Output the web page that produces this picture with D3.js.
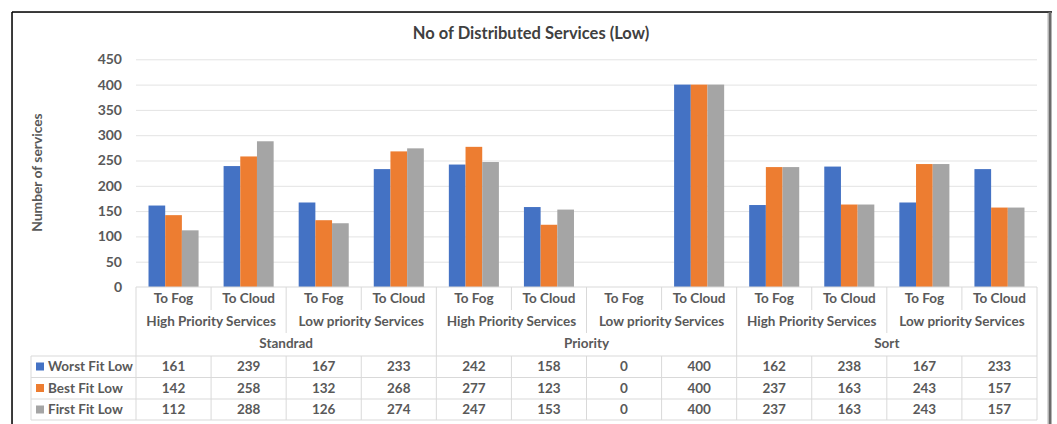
<!DOCTYPE html>
<html>
<head>
<meta charset="utf-8">
<script src="https://cdn.jsdelivr.net/npm/d3@7"></script>
<style>
  html, body { margin: 0; padding: 0; background: #fff; }
  svg { display: block; }
  text { font-family: Lato, "Open Sans", sans-serif; font-weight: bold; fill: #595959; }
</style>
</head>
<body>
<svg id="chart" width="1057" height="424"></svg>
<script>
const chartTitle = "No of Distributed Services (Low)";
const yAxisTitle = "Number of services";
const mainGroups = ["Standrad", "Priority", "Sort"];
const subGroups = ["High Priority Services", "Low priority Services"];
const destinations = ["To Fog", "To Cloud"];
const seriesNames = ["Worst Fit Low", "Best Fit Low", "First Fit Low"];
const seriesColors = ["#4472C4", "#ED7D31", "#A5A5A5"];
const worstFitLow = [161, 239, 167, 233, 242, 158, 0, 400, 162, 238, 167, 233];
const bestFitLow  = [142, 258, 132, 268, 277, 123, 0, 400, 237, 163, 243, 157];
const firstFitLow = [112, 288, 126, 274, 247, 153, 0, 400, 237, 163, 243, 157];
const yTicks = [0, 50, 100, 150, 200, 250, 300, 350, 400, 450];

const series = [worstFitLow, bestFitLow, firstFitLow];
const categories = [];
mainGroups.forEach((g, gi) => subGroups.forEach((s, si) => destinations.forEach((d, di) => {
  categories.push({ index: categories.length, main: g, sub: s, dest: d });
})));

const svg = d3.select("#chart");
const W = 1057, H = 424;
const plotLeft = 136, plotRight = 1037, plotTop = 59.3, plotBottom = 287;

// outer frame
svg.append("rect").attr("x", 12.5).attr("y", 12.5).attr("width", 1035).attr("height", 420)
  .attr("fill", "#fff").attr("stroke", "#d9d9d9").attr("stroke-width", 1);
svg.append("line").attr("x1", 12).attr("x2", 1052).attr("y1", 12).attr("y2", 12).attr("stroke", "#000").attr("stroke-width", 1.5);
svg.append("line").attr("x1", 12).attr("x2", 12).attr("y1", 12).attr("y2", H).attr("stroke", "#000").attr("stroke-width", 1.5);
svg.append("line").attr("x1", 1050).attr("x2", 1050).attr("y1", 12).attr("y2", H).attr("stroke", "#6b6b6b").attr("stroke-width", 3);

const x = d3.scaleBand().domain(categories.map(c => c.index)).range([plotLeft, plotRight])
  .paddingInner(1 / 3).paddingOuter(1 / 6);
const xs = d3.scaleBand().domain(d3.range(series.length)).range([0, x.bandwidth()]);
const y = d3.scaleLinear().domain([0, 450]).range([plotBottom, plotTop]);

// gridlines + y labels via axis
const yAxis = d3.axisLeft(y).tickValues(yTicks).tickSize(-(plotRight - plotLeft)).tickPadding(14);
const gy = svg.append("g").attr("transform", `translate(${plotLeft},0)`).call(yAxis);
gy.select(".domain").remove();
gy.selectAll(".tick line").attr("stroke", "#e3e3e3").attr("stroke-width", 1)
  .filter(d => d === 0).remove();
gy.selectAll(".tick text").attr("font-size", 14).attr("fill", "#595959")
  .style("font-family", "Lato, sans-serif").style("font-weight", "bold");

// bars
series.forEach((vals, si) => {
  svg.append("g").selectAll("rect").data(categories).join("rect")
    .attr("x", c => x(c.index) + xs(si))
    .attr("width", xs.bandwidth())
    .attr("y", c => y(vals[c.index]))
    .attr("height", c => y(0) - y(vals[c.index]))
    .attr("fill", seriesColors[si]);
});

// title
svg.append("text").attr("x", 531).attr("y", 39).attr("text-anchor", "middle")
  .attr("font-size", 16.5).text(chartTitle).style("fill", "#404040");
// y title
svg.append("text").attr("transform", "translate(41.5,172.5) rotate(-90)").attr("text-anchor", "middle")
  .attr("font-size", 13.8).text(yAxisTitle);

// table
const gridColor = "#d9d9d9";
const tbl = svg.append("g");
const step = x.step();
const colLeft = i => plotLeft + i * step;
const row1 = 298, row2 = 321, row3 = 343.5;
const rowLines = [356, 377.5, 399, 420];
const dataRows = [366.5, 388, 409.5];
const legendLeft = 31;

// horizontal lines
tbl.append("line").attr("x1", plotLeft).attr("x2", plotRight).attr("y1", plotBottom).attr("y2", plotBottom).attr("stroke", gridColor);
rowLines.forEach(ly => tbl.append("line").attr("x1", legendLeft).attr("x2", plotRight).attr("y1", ly).attr("y2", ly).attr("stroke", gridColor));
// vertical lines for header levels
for (let i = 0; i <= categories.length; i++) {
  let y2;
  if (i % 4 === 0) y2 = 420;
  else if (i % 2 === 0) y2 = 333;
  else y2 = 310;
  tbl.append("line").attr("x1", colLeft(i)).attr("x2", colLeft(i)).attr("y1", plotBottom).attr("y2", y2).attr("stroke", gridColor);
  if (i % 4 !== 0) tbl.append("line").attr("x1", colLeft(i)).attr("x2", colLeft(i)).attr("y1", 356).attr("y2", 420).attr("stroke", gridColor);
}
tbl.append("line").attr("x1", legendLeft).attr("x2", legendLeft).attr("y1", 356).attr("y2", 420).attr("stroke", gridColor);

// header text
categories.forEach(c => {
  tbl.append("text").attr("x", x(c.index) + x.bandwidth() / 2).attr("y", row1).attr("dy", "0.35em")
    .attr("text-anchor", "middle").attr("font-size", 13.5).text(c.dest);
});
mainGroups.forEach((g, gi) => subGroups.forEach((s, si) => {
  const i0 = gi * 4 + si * 2;
  tbl.append("text").attr("x", (colLeft(i0) + colLeft(i0 + 2)) / 2).attr("y", row2).attr("dy", "0.35em")
    .attr("text-anchor", "middle").attr("font-size", 13.5).text(s);
}));
mainGroups.forEach((g, gi) => {
  tbl.append("text").attr("x", (colLeft(gi * 4) + colLeft(gi * 4 + 4)) / 2).attr("y", row3).attr("dy", "0.35em")
    .attr("text-anchor", "middle").attr("font-size", 13.5).text(g);
});
// data rows
series.forEach((vals, si) => {
  tbl.append("rect").attr("x", 36).attr("y", dataRows[si] - 4).attr("width", 8).attr("height", 8).attr("fill", seriesColors[si]);
  tbl.append("text").attr("x", 48).attr("y", dataRows[si]).attr("dy", "0.35em").attr("font-size", 13.5).text(seriesNames[si]);
  categories.forEach(c => {
    tbl.append("text").attr("x", x(c.index) + x.bandwidth() / 2).attr("y", dataRows[si]).attr("dy", "0.35em")
      .attr("text-anchor", "middle").attr("font-size", 13.5).text(vals[c.index]);
  });
});
</script>
</body>
</html>
